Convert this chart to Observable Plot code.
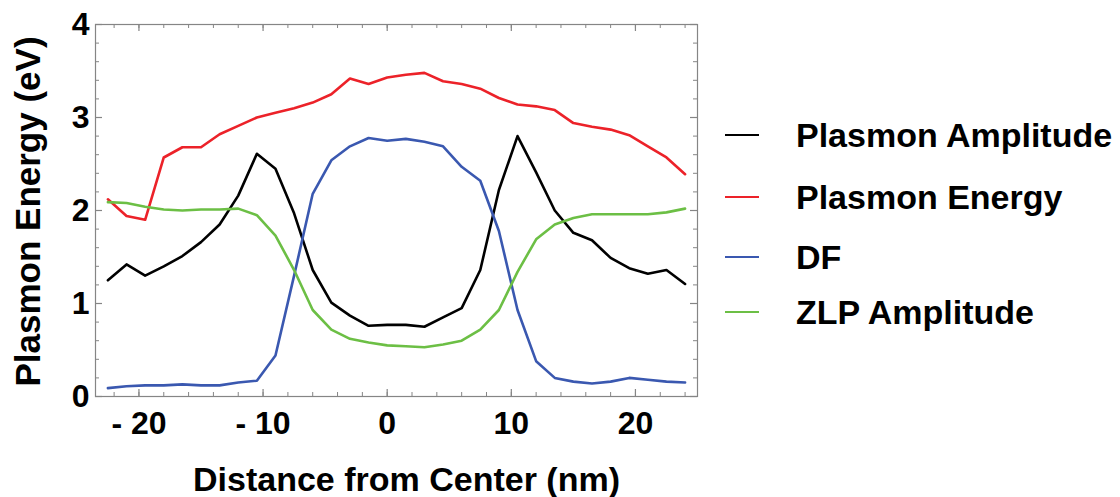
<!DOCTYPE html>
<html>
<head>
<meta charset="utf-8">
<script src="https://cdn.jsdelivr.net/npm/d3@7"></script>
<script src="https://cdn.jsdelivr.net/npm/@observablehq/plot@0.6"></script>
<style>
  html, body { margin: 0; padding: 0; background: #fff; }
  #wrap { position: relative; width: 1120px; height: 497px; font-family: "Liberation Sans", Arial, sans-serif; }
  #legend { position: absolute; left: 0; top: 0; }
  .item { position: absolute; left: 725px; display: flex; align-items: center; white-space: nowrap; }
  .sw { width: 34px; height: 0; border-top: 2.5px solid; margin-right: 37px; }
  .lab { font-size: 34px; font-weight: bold; color: #000; line-height: 1; }
</style>
</head>
<body>
<div id="wrap"><div id="chart"></div><div id="legend"></div></div>
<script>
const distance = [-22.5,-21,-19.5,-18,-16.5,-15,-13.5,-12,-10.5,-9,-7.5,-6,-4.5,-3,-1.5,0,1.5,3,4.5,6,7.5,9,10.5,12,13.5,15,16.5,18,19.5,21,22.5,24];
const plasmonAmplitude = [1.25,1.42,1.30,1.40,1.51,1.66,1.85,2.16,2.61,2.45,1.97,1.36,1.01,0.87,0.76,0.77,0.77,0.75,0.85,0.95,1.36,2.22,2.80,2.41,2.00,1.76,1.68,1.49,1.38,1.32,1.36,1.21];
const plasmonEnergy = [2.12,1.94,1.90,2.57,2.68,2.68,2.82,2.91,3.00,3.05,3.10,3.16,3.25,3.42,3.36,3.43,3.46,3.48,3.39,3.36,3.31,3.21,3.14,3.12,3.08,2.94,2.90,2.87,2.81,2.69,2.57,2.39];
const df = [0.09,0.11,0.12,0.12,0.13,0.12,0.12,0.15,0.17,0.44,1.30,2.18,2.54,2.69,2.78,2.75,2.77,2.74,2.69,2.47,2.32,1.78,0.93,0.38,0.20,0.16,0.14,0.16,0.20,0.18,0.16,0.15];
const zlpAmplitude = [2.09,2.08,2.04,2.01,2.00,2.01,2.01,2.02,1.95,1.73,1.36,0.93,0.72,0.62,0.58,0.55,0.54,0.53,0.56,0.60,0.72,0.93,1.34,1.69,1.85,1.92,1.96,1.96,1.96,1.96,1.98,2.02];

const seriesNames = ["Plasmon Amplitude", "Plasmon Energy", "DF", "ZLP Amplitude"];
const seriesColors = ["#000000", "#ec2229", "#3a58b0", "#6cbf45"];
const seriesValues = [plasmonAmplitude, plasmonEnergy, df, zlpAmplitude];

const xMajor = [-20, -10, 0, 10, 20];
const xMinor = [-22,-20,-18,-16,-14,-12,-10,-8,-6,-4,-2,0,2,4,6,8,10,12,14,16,18,20,22,24];
const yMajor = [0, 1, 2, 3, 4];
const yMinor = [0.2,0.4,0.6,0.8,1.2,1.4,1.6,1.8,2.2,2.4,2.6,2.8,3.2,3.4,3.6,3.8];

const xLabel = "Distance from Center (nm)";
const yLabel = "Plasmon Energy (eV)";

const rows = [];
seriesNames.forEach((name, s) => {
  distance.forEach((x, i) => rows.push({series: name, x, y: seriesValues[s][i]}));
});

const W = 1120, H = 497;
const mL = 95, mR = 423, mT = 24, mB = 101;
const fw = W - mL - mR, fh = H - mT - mB;
const frameColor = "#858585";
const major = 7, minor = 4;
const font = "Liberation Sans, Arial, sans-serif";

const chart = Plot.plot({
  width: W, height: H,
  marginLeft: mL, marginRight: mR, marginTop: mT, marginBottom: mB,
  style: {fontFamily: font, background: "#fff"},
  x: {domain: [-23.5, 25]},
  y: {domain: [0, 4]},
  color: {domain: seriesNames, range: seriesColors},
  marks: [
    Plot.line(rows, {x: "x", y: "y", z: "series", stroke: "series", strokeWidth: 2.6, strokeLinejoin: "round"}),
    Plot.frame({stroke: frameColor, strokeWidth: 1.2}),
    Plot.ruleX(xMajor, {x: d => d, insetTop: fh - major, stroke: frameColor, strokeWidth: 1.2}),
    Plot.ruleX(xMajor, {x: d => d, insetBottom: fh - major, stroke: frameColor, strokeWidth: 1.2}),
    Plot.ruleX(xMinor, {x: d => d, insetTop: fh - minor, stroke: frameColor, strokeWidth: 1}),
    Plot.ruleX(xMinor, {x: d => d, insetBottom: fh - minor, stroke: frameColor, strokeWidth: 1}),
    Plot.ruleY(yMajor, {y: d => d, insetRight: fw - major, stroke: frameColor, strokeWidth: 1.2}),
    Plot.ruleY(yMajor, {y: d => d, insetLeft: fw - major, stroke: frameColor, strokeWidth: 1.2}),
    Plot.ruleY(yMinor, {y: d => d, insetRight: fw - minor, stroke: frameColor, strokeWidth: 1}),
    Plot.ruleY(yMinor, {y: d => d, insetLeft: fw - minor, stroke: frameColor, strokeWidth: 1}),
    Plot.axisX({ticks: xMajor, tickSize: 0, tickPadding: 15, label: null,
      tickFormat: d => d < 0 ? "- " + Math.abs(d) : String(d),
      fontSize: 32, fontWeight: "bold", fill: "#000"}),
    Plot.axisY({ticks: yMajor, tickSize: 0, tickPadding: 6, label: null,
      tickFormat: d => String(d),
      fontSize: 32, fontWeight: "bold", fill: "#000"}),
    Plot.text([xLabel], {text: d => d, frameAnchor: "bottom", textAnchor: "middle", dx: 10, dy: 84, lineAnchor: "middle",
      fontSize: 34, fontWeight: "bold", fill: "#000"}),
    Plot.text([yLabel], {text: d => d, frameAnchor: "left", textAnchor: "middle", dx: -67, dy: 1, rotate: -90, lineAnchor: "middle",
      fontSize: 35, fontWeight: "bold", fill: "#000"})
  ]
});
document.getElementById("chart").appendChild(chart);

const legendTops = [135, 197, 257, 312];
const leg = document.getElementById("legend");
const colorScale = chart.scale("color");
seriesNames.forEach((name, i) => {
  const it = document.createElement("div");
  it.className = "item";
  it.style.top = (legendTops[i] - 18) + "px";
  it.style.height = "36px";
  const sw = document.createElement("div");
  sw.className = "sw";
  sw.style.borderTopColor = colorScale.apply(name);
  const lb = document.createElement("div");
  lb.className = "lab";
  lb.textContent = name;
  it.appendChild(sw); it.appendChild(lb);
  leg.appendChild(it);
});
</script>
</body>
</html>
